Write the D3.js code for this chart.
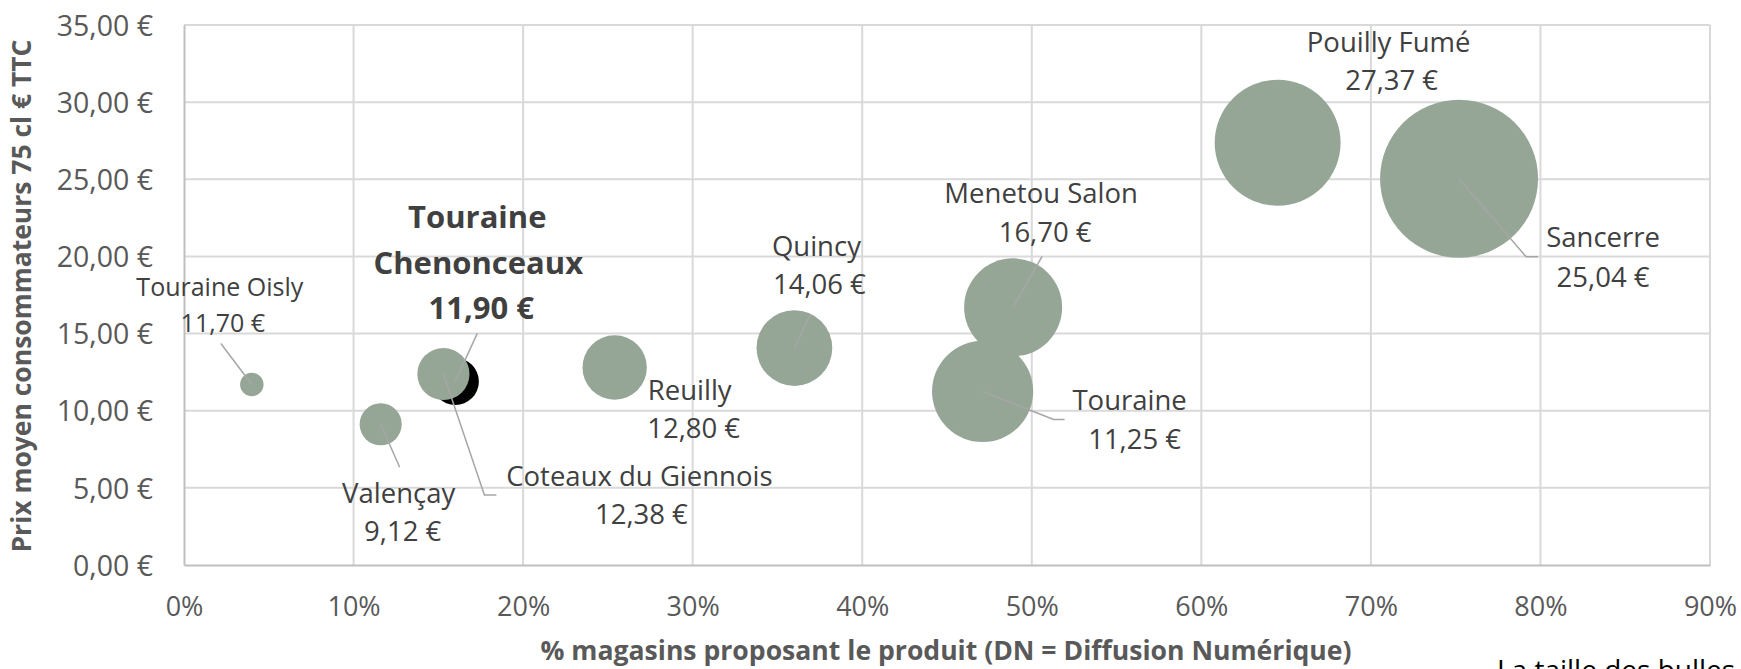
<!DOCTYPE html>
<html>
<head>
<meta charset="utf-8">
<script src="https://cdn.jsdelivr.net/npm/d3@7"></script>
<style>
  html, body { margin: 0; padding: 0; background: #fff; overflow: hidden; }
  text { font-family: "Open Sans", "DejaVu Sans", sans-serif; }
</style>
</head>
<body>
<div id="chart"></div>
<script>
"use strict";

// appellations
const names = ["Touraine Chenonceaux", "Touraine Oisly", "Valençay", "Coteaux du Giennois",
  "Reuilly", "Quincy", "Menetou Salon", "Touraine", "Pouilly Fumé", "Sancerre"];
// DN (share of stores listing the wine)
const dn = [0.160, 0.040, 0.116, 0.153, 0.254, 0.360, 0.489, 0.471, 0.645, 0.752];
// average consumer price, 75 cl, € TTC
const prices = [11.90, 11.70, 9.12, 12.38, 12.80, 14.06, 16.70, 11.25, 27.37, 25.04];
// sales volume (bubble size, relative units)
const volumes = [8.9, 2.2, 7.1, 10.9, 16.6, 23.0, 38.5, 41.0, 63.5, 100];

const xTicks = [0, 0.1, 0.2, 0.3, 0.4, 0.5, 0.6, 0.7, 0.8, 0.9];
const yTicks = [0, 5, 10, 15, 20, 25, 30, 35];

// label layout: offsets (px) from bubble centre for each text line, and leader lines
const labelLayout = {
  "Touraine Chenonceaux": { lines: [[22, -153], [23, -107], [26, -62]], leader: [[0, 0], [22, -48]] },
  "Touraine Oisly": { lines: [[-32, -88], [-29, -52]], leader: [[0, 0], [-31, -41]] },
  "Valençay": { lines: [[18, 79], [22, 117]], leader: [[0, 0], [19, 43]] },
  "Coteaux du Giennois": { lines: [[196, 112], [198, 150]], leader: [[0, 0], [41, 121], [53, 121]] },
  "Reuilly": { lines: [[75, 32], [79, 70]], leader: null },
  "Quincy": { lines: [[22, -92], [25, -54]], leader: [[0, 0], [16, -34]] },
  "Menetou Salon": { lines: [[28, -104], [32, -65]], leader: [[0, 0], [29, -51]] },
  "Touraine": { lines: [[147, 19], [152, 58]], leader: [[0, 0], [71, 28], [82, 28]] },
  "Pouilly Fumé": { lines: [[111, -91], [114, -53]], leader: null },
  "Sancerre": { lines: [[144, 68], [144, 108]], leader: [[0, 0], [67, 78], [79, 78]] }
};

const W = 1741, H = 669;
const margin = { top: 25, right: 31, bottom: 104, left: 184 };
const width = W - margin.left - margin.right;
const height = H - margin.top - margin.bottom;

const bubbleColor = "#95a697";
const gridColor = "#d9d9d9";
const textColor = "#595959";
const labelColor = "#404040";

const euro = v => d3.format(".2f")(v).replace(".", ",") + " €";

const svg = d3.select("#chart").append("svg")
  .attr("width", W)
  .attr("height", H);

svg.append("rect").attr("width", W).attr("height", H).attr("fill", "#fff");

const g = svg.append("g")
  .attr("transform", "translate(" + margin.left + "," + margin.top + ")");

const xScale = d3.scaleLinear().domain([0, 0.9]).range([0, width]);
const yScale = d3.scaleLinear().domain([0, 35]).range([height, 0]);
const rScale = d3.scaleSqrt().domain([0, d3.max(volumes)]).range([0, 79]);

// gridlines
g.append("g").selectAll("line").data(yTicks.slice(1)).join("line")
  .attr("x1", 0).attr("x2", width)
  .attr("y1", d => yScale(d)).attr("y2", d => yScale(d))
  .attr("stroke", gridColor).attr("stroke-width", 2);
g.append("g").selectAll("line").data(xTicks.slice(1)).join("line")
  .attr("y1", 0).attr("y2", height)
  .attr("x1", d => xScale(d)).attr("x2", d => xScale(d))
  .attr("stroke", gridColor).attr("stroke-width", 2);

// axes
const xAxis = g.append("g")
  .attr("transform", "translate(0," + height + ")")
  .call(d3.axisBottom(xScale).tickValues(xTicks).tickSize(0).tickPadding(32)
    .tickFormat(d3.format(".0%")));
const yAxis = g.append("g")
  .call(d3.axisLeft(yScale).tickValues(yTicks).tickSize(0).tickPadding(31)
    .tickFormat(euro));

[xAxis, yAxis].forEach(a => {
  a.select(".domain").attr("stroke", "#bfbfbf").attr("stroke-width", 2);
  a.selectAll("text")
    .attr("fill", textColor)
    .style("font-family", '"Open Sans", sans-serif')
    .style("font-size", "27px");
});
yAxis.selectAll("text").attr("dy", "0.36em").style("font-size", "28.5px");

// bubbles
const idx = d3.range(names.length);
const px = i => xScale(dn[i]);
const py = i => yScale(prices[i]);

g.append("g").selectAll("circle").data(idx).join("circle")
  .attr("cx", px)
  .attr("cy", py)
  .attr("r", i => rScale(volumes[i]))
  .attr("fill", i => i === 0 ? "#000" : bubbleColor);

// leader lines
const lineGen = d3.line();
g.append("g").selectAll("path")
  .data(idx.filter(i => labelLayout[names[i]].leader))
  .join("path")
  .attr("d", i => lineGen(labelLayout[names[i]].leader.map(p => [px(i) + p[0], py(i) + p[1]])))
  .attr("fill", "none")
  .attr("stroke", "#a6a6a6")
  .attr("stroke-width", 1.5);

// data labels
idx.forEach(i => {
  const lay = labelLayout[names[i]];
  const main = i === 0;
  const texts = main ? ["Touraine", "Chenonceaux", euro(prices[i])] : [names[i], euro(prices[i])];
  texts.forEach((t, k) => {
    g.append("text")
      .attr("x", px(i) + lay.lines[k][0])
      .attr("y", py(i) + lay.lines[k][1])
      .attr("text-anchor", "middle")
      .attr("fill", labelColor)
      .style("font-size", main ? "31px" : (names[i] === "Touraine Oisly" ? "25px" : "27.5px"))
      .style("font-weight", main ? "bold" : "normal")
      .text(t);
  });
});

// axis titles
svg.append("text")
  .attr("x", 946)
  .attr("y", 660)
  .attr("text-anchor", "middle")
  .attr("fill", textColor)
  .attr("textLength", 811)
  .attr("lengthAdjust", "spacingAndGlyphs")
  .style("font-size", "26px")
  .style("font-weight", "bold")
  .text("% magasins proposant le produit (DN = Diffusion Numérique)");

svg.append("text")
  .attr("transform", "translate(31,296) rotate(-90)")
  .attr("text-anchor", "middle")
  .attr("fill", textColor)
  .attr("textLength", 513)
  .attr("lengthAdjust", "spacingAndGlyphs")
  .style("font-size", "26px")
  .style("font-weight", "bold")
  .text("Prix moyen consommateurs 75 cl € TTC");

// size note, cut by the bottom edge as in the original
svg.append("text")
  .attr("x", 1497)
  .attr("y", 680)
  .attr("fill", "#000")
  .style("font-size", "28px")
  .text("La taille des bulles représente le volume des ventes");
</script>
</body>
</html>
